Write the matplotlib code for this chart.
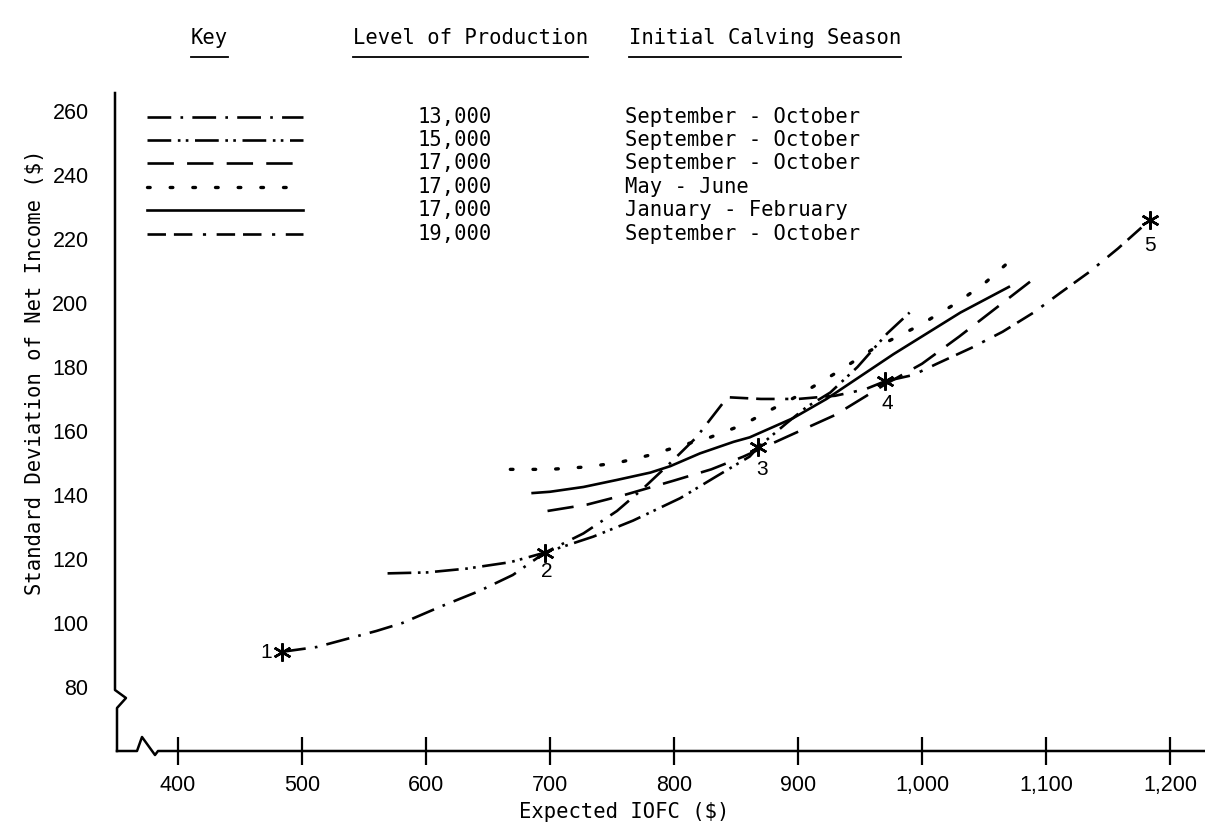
import matplotlib
matplotlib.use("Agg")
import matplotlib.pyplot as plt
from matplotlib import font_manager

# ---------------- data ----------------
x13 = [484, 512, 536, 560, 581, 611, 643, 670, 696, 727, 754, 775, 797, 818, 843]
y13 = [91, 92.5, 95, 97.5, 100, 105, 110, 115, 122, 128, 135, 142, 150, 158, 170.5]

x15 = [569, 601, 633, 668, 696, 735, 767, 805, 835, 861, 868, 891, 907, 926, 948, 972, 990]
y15 = [115.5, 115.8, 117, 119, 122, 127, 132, 139, 146, 152, 155, 162.5, 167.5, 172, 180, 190.5, 197]

x17so = [698, 730, 760, 800, 830, 856, 890, 930, 970, 1000, 1030, 1065, 1095]
y17so = [135, 137, 140, 144.5, 148, 152, 158, 165, 174.5, 181, 189.5, 200, 209]

x17mj = [668, 700, 727, 754, 781, 802, 829, 856, 875, 900, 930, 960, 998, 1028, 1050, 1072]
y17mj = [148, 148, 148.7, 150, 152.5, 155, 158, 162, 166, 171, 178, 185.5, 193, 200, 206, 213.5]

x17jf = [686, 700, 727, 754, 781, 797, 821, 848, 861, 896, 923, 950, 977, 1004, 1031, 1070]
y17jf = [140.6, 141, 142.5, 144.7, 147, 149, 153, 156.6, 158, 164, 170, 177, 184, 190.5, 197, 205]

x19 = [845, 870, 900, 930, 954, 970, 993, 1012, 1040, 1065, 1090, 1111, 1135, 1158, 1184]
y19 = [170.5, 170, 170, 171, 173, 175.5, 177.5, 181, 186, 191, 197, 203, 209.7, 217, 226]

star_x = [484, 696, 868, 970, 1184]
star_y = [91, 122, 155, 175.5, 226]
star_labels = ["1", "2", "3", "4", "5"]

levels = ["13,000", "15,000", "17,000", "17,000", "17,000", "19,000"]
seasons = ["September - October", "September - October", "September - October",
           "May - June", "January - February", "September - October"]

xticks = [400, 500, 600, 700, 800, 900, 1000, 1100, 1200]
xticklabels = ["400", "500", "600", "700", "800", "900", "1,000", "1,100", "1,200"]
yticks = [80, 100, 120, 140, 160, 180, 200, 220, 240, 260]

# ---------------- fonts ----------------
avail = {f.name for f in font_manager.fontManager.ttflist}
def pick(*names):
    for n in names:
        if n in avail:
            return n
    return "DejaVu Sans"
MONO = pick("DejaVu Sans Mono", "Liberation Mono")
NUM = pick("Liberation Sans Narrow", "Liberation Sans", "DejaVu Sans")

# ---------------- figure ----------------
W, H = 1205, 833
fig = plt.figure(figsize=(W / 100, H / 100), dpi=100)
ax = fig.add_axes([115 / W, 82 / H, 1090 / W, 658 / H])
ax.set_xlim(349.2, 1228.2)
ax.set_ylim(60, 265.6)
for s in ax.spines.values():
    s.set_visible(False)

LW = 1.9
styles = [
    dict(ls=(0, (9, 3.5, 1, 3.5))),               # 13,000 dash-dot
    dict(ls=(0, (9, 2.5, 1, 2, 1, 2.5))),          # 15,000 dash-dot-dot
    dict(ls=(0, (10, 5))),                          # 17,000 dashed
    dict(ls=(0, (0.8, 6)), dash_capstyle="round", lw=2.4),  # 17,000 dotted
    dict(ls="-"),                                   # 17,000 solid
    dict(ls=(0, (7, 3, 7, 4, 1.2, 4))),             # 19,000 dash-dash-dot
]
series = [(x13, y13), (x15, y15), (x17so, y17so), (x17mj, y17mj), (x17jf, y17jf), (x19, y19)]
for (xs, ys), st in zip(series, styles):
    kw = dict(color="black", lw=LW)
    kw.update(st)
    ax.plot(xs, ys, **kw)

# stars and numbers
ax.plot(star_x, star_y, ls="none", marker=(6, 2, 0), ms=13, mew=1.8, color="black")
offsets = [(-16, -1), (2, -19), (4, -23), (2, -22), (0, -26)]
for xv, yv, lab, off in zip(star_x, star_y, star_labels, offsets):
    ax.annotate(lab, (xv, yv), xytext=off, textcoords="offset pixels",
                ha="center", va="center", fontsize=15, family=NUM)

# axes lines with breaks (axes fraction)
tr = ax.transAxes
yl_x = [0, 0, 11 / 1090, 2 / 1090, 2 / 1090]
yl_y = [1, 61 / 658, 53 / 658, 43 / 658, 0]
ax.plot(yl_x, yl_y, color="black", lw=1.8, transform=tr, clip_on=False)
xl_x = [2 / 1090, 22 / 1090, 27 / 1090, 40 / 1090, 43 / 1090, 1]
xl_y = [0, 0, 14 / 658, -4 / 658, 0, 0]
ax.plot(xl_x, xl_y, color="black", lw=1.8, transform=tr, clip_on=False)

ax.set_xticks(xticks)
ax.set_xticklabels(xticklabels, family=NUM, fontsize=15.5)
ax.tick_params(axis="x", direction="inout", length=20, width=1.6, pad=7)
ax.set_yticks(yticks)
ax.set_yticklabels([str(v) for v in yticks], family=NUM, fontsize=15.5)
ax.tick_params(axis="y", length=0, pad=19)

# key samples
rows_py = [117, 140, 163, 187, 210, 234]
for (st, py) in zip(styles, rows_py):
    kw = dict(color="black", lw=LW)
    kw.update(st)
    yf = (751 - py) / 658
    ax.plot([32 / 1090, 188 / 1090], [yf, yf], transform=tr, clip_on=False, **kw)

FS = 14.8
for lev, sea, py in zip(levels, seasons, rows_py):
    fig.text(417 / W, (H - py) / H, lev, family=MONO, fontsize=FS, ha="left", va="center")
    fig.text(625 / W, (H - py) / H, sea, family=MONO, fontsize=FS, ha="left", va="center")

# headers with underline
renderer = fig.canvas.get_renderer()
for txt, px in [("Key", 191), ("Level of Production", 353), ("Initial Calving Season", 629)]:
    t = fig.text(px / W, (H - 38) / H, txt, family=MONO, fontsize=FS, ha="left", va="center")
    bb = t.get_window_extent(renderer)
    fig.add_artist(plt.Line2D([bb.x0 / W, bb.x1 / W], [(H - 57) / H, (H - 57) / H],
                              color="black", lw=1.3))

fig.text(35 / W, (H - 372) / H, "Standard Deviation of Net Income ($)", family=MONO,
         fontsize=FS, rotation=90, ha="center", va="center")
fig.text(624 / W, (H - 812) / H, "Expected IOFC ($)", family=MONO, fontsize=FS,
         ha="center", va="center")

fig.savefig("out.png", dpi=100)
